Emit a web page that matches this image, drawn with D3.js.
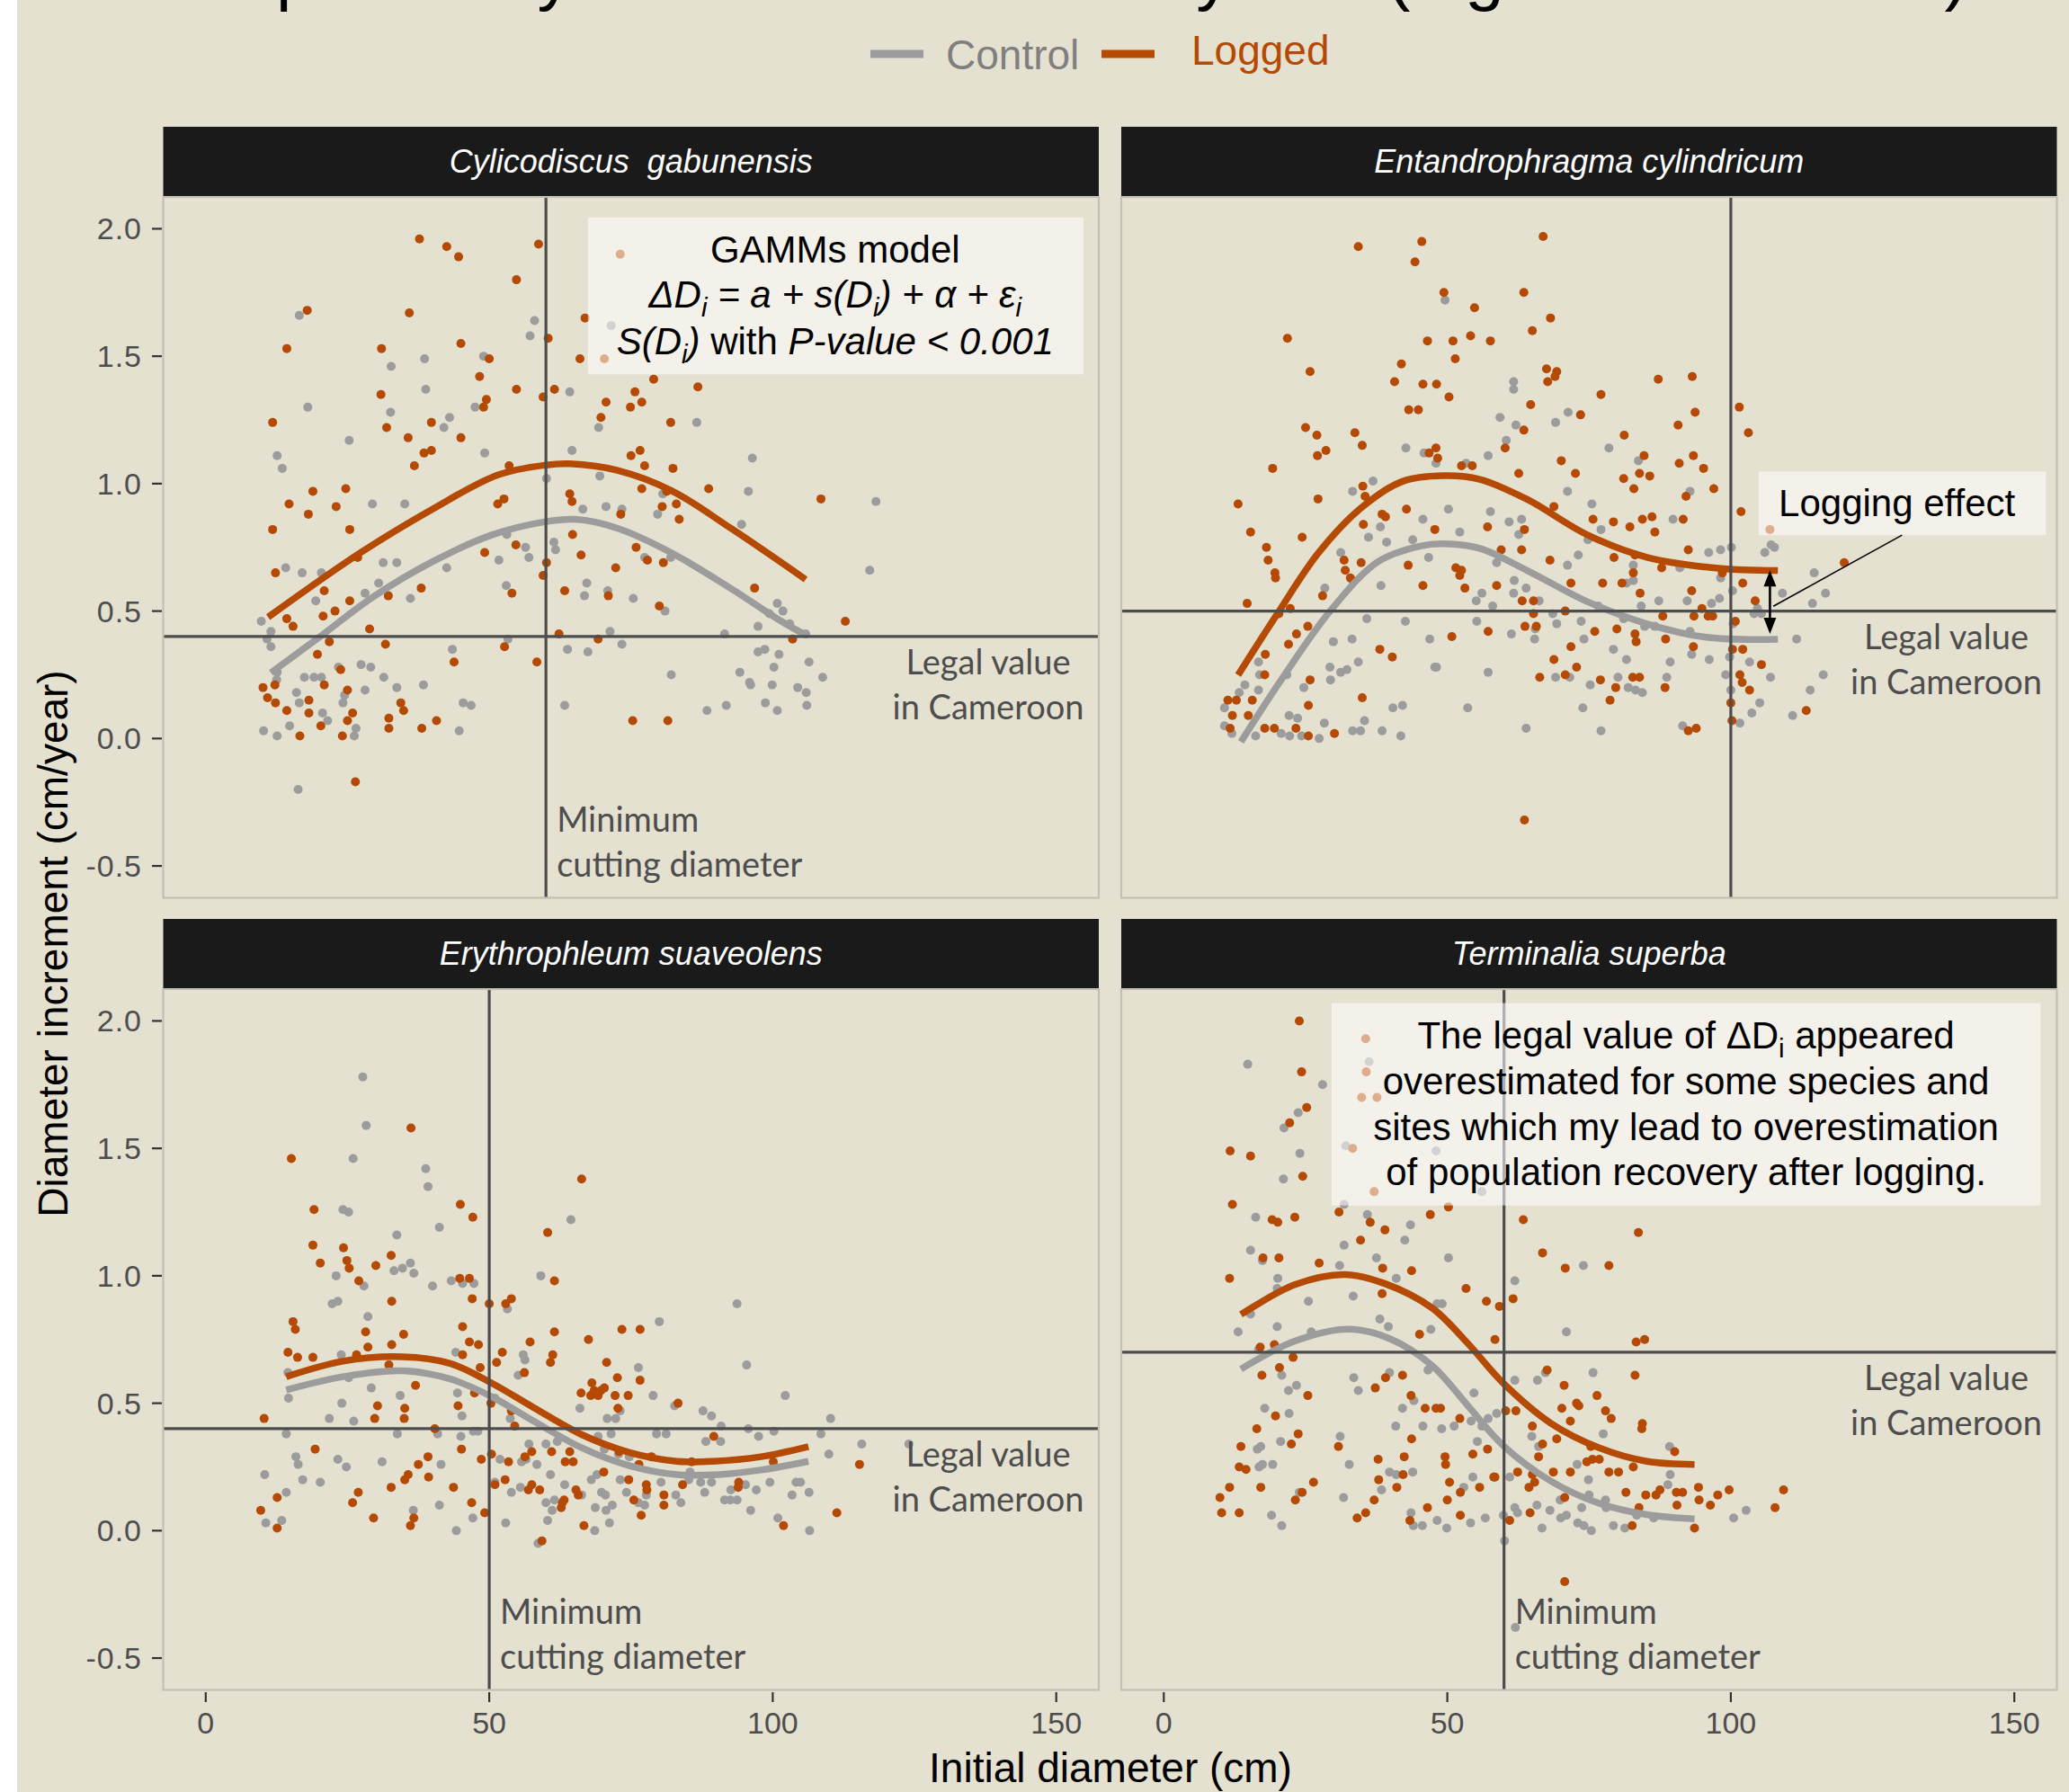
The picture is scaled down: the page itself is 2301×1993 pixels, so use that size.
<!DOCTYPE html>
<html><head><meta charset="utf-8">
<script src="https://cdn.jsdelivr.net/npm/d3@7"></script>
<style>body{margin:0;background:#fff}svg{display:block}</style>
</head><body>
<svg id="c" width="2301" height="1993"></svg>
<script>
// ---------- data (x = initial diameter cm, y = diameter increment cm/year) ----------
const speciesNames = ["Cylicodiscus  gabunensis","Entandrophragma cylindricum","Erythrophleum suaveolens","Terminalia superba"];
const minCuttingDiameter = [60, 100, 50, 60];
const legalValue = [0.4, 0.5, 0.4, 0.7];
const xTicks = [0, 50, 100, 150];
const yTicks = [-0.5, 0, 0.5, 1.0, 1.5, 2.0];
const yTickLabels = ["-0.5", "0.0", "0.5", "1.0", "1.5", "2.0"];
const seriesNames = ["Control", "Logged"];

const cylLogged = [[37.7,1.96],[42.5,1.93],[44.6,1.89],[58.7,1.94],[54.8,1.80],[17.9,1.68],[35.9,1.67],[14.3,1.53],[31.0,1.53],[45.0,1.55],[50.0,1.49],[48.3,1.42],[30.9,1.35],[54.8,1.37],[59.5,1.34],[61.5,1.37],[70.6,1.32],[74.9,1.30],[75.7,1.36],[76.9,1.32],[60.4,1.57],[66.0,1.49],[66.9,1.65],[79.0,1.41],[86.8,1.38],[11.8,1.24],[31.9,1.22],[35.7,1.18],[39.8,1.24],[45.0,1.18],[49.5,1.33],[49.0,1.30],[69.7,1.26],[82.0,1.24],[38.5,1.12],[39.8,1.13],[36.8,1.07],[53.5,1.07],[75.0,1.11],[76.6,1.13],[77.4,1.07],[82.4,1.06],[18.9,0.97],[24.7,0.98],[14.7,0.92],[18.1,0.88],[23.0,0.91],[25.4,0.82],[51.5,0.92],[52.6,0.94],[64.2,0.96],[64.6,0.93],[73.2,0.88],[76.9,0.98],[80.5,0.91],[83.0,0.92],[83.5,0.86],[88.7,0.98],[81.3,0.97],[11.8,0.82],[12.3,0.65],[26.8,0.71],[20.9,0.58],[20.7,0.48],[22.8,0.50],[25.4,0.54],[32.2,0.56],[38.0,0.59],[49.2,0.73],[54.7,0.76],[59.5,0.64],[60.1,0.69],[64.7,0.80],[66.2,0.72],[72.3,0.67],[75.9,0.75],[77.9,0.70],[80.7,0.69],[54.0,0.57],[63.3,0.58],[71.0,0.56],[80.0,0.52],[96.8,0.59],[108.5,0.94],[112.8,0.46],[14.3,0.47],[15.4,0.44],[28.9,0.43],[21.8,0.38],[31.7,0.37],[19.7,0.33],[23.8,0.27],[43.8,0.30],[52.7,0.36],[58.4,0.30],[62.3,0.41],[69.2,0.39],[103.5,0.39],[10.1,0.20],[12.2,0.21],[10.9,0.16],[12.3,0.14],[14.3,0.11],[18.2,0.10],[20.9,0.21],[25.0,0.19],[18.2,0.15],[25.9,0.10],[25.0,0.07],[20.3,0.05],[16.6,0.01],[24.1,0.01],[32.3,0.08],[32.3,0.04],[34.4,0.14],[34.9,0.11],[38.1,0.04],[40.7,0.07],[75.3,0.07],[81.5,0.07],[26.4,-0.17],[73.1,1.90],[70.3,1.49]];
const cylControl = [[16.5,1.66],[18.0,1.30],[32.7,1.46],[38.6,1.49],[38.8,1.37],[32.6,1.28],[25.3,1.17],[12.6,1.11],[13.5,1.06],[42.0,1.22],[43.0,1.26],[47.5,1.30],[49.2,1.12],[49.0,1.50],[58.0,1.64],[57.2,1.58],[64.2,1.36],[69.3,1.22],[86.6,1.24],[64.6,1.13],[96.4,1.10],[95.7,0.97],[60.1,1.02],[69.5,1.03],[29.4,0.92],[35.1,0.92],[70.6,0.91],[73.4,0.90],[66.5,0.90],[79.7,0.88],[80.6,0.96],[53.1,0.80],[56.4,0.75],[61.4,0.77],[61.7,0.74],[57.0,0.71],[51.7,0.70],[42.5,0.67],[31.3,0.69],[33.7,0.69],[14.1,0.67],[17.0,0.65],[20.4,0.65],[30.5,0.61],[28.1,0.57],[36.1,0.55],[19.4,0.54],[53.0,0.60],[67.2,0.61],[70.9,0.58],[66.8,0.56],[75.4,0.55],[81.0,0.50],[77.4,0.71],[82.0,0.71],[94.5,0.84],[118.2,0.93],[117.1,0.66],[100.8,0.53],[101.8,0.50],[99.4,0.49],[97.4,0.44],[103.0,0.45],[105.8,0.41],[9.8,0.46],[11.5,0.42],[10.8,0.39],[11.5,0.36],[12.6,0.26],[12.5,0.23],[17.4,0.24],[19.1,0.24],[20.4,0.24],[27.4,0.29],[29.1,0.28],[23.4,0.28],[31.4,0.24],[33.7,0.20],[38.4,0.21],[43.5,0.35],[53.3,0.39],[63.8,0.35],[67.4,0.34],[71.3,0.42],[73.4,0.37],[97.4,0.34],[98.6,0.35],[100.2,0.28],[101.1,0.33],[106.4,0.30],[108.8,0.24],[94.2,0.26],[95.9,0.22],[96.1,0.21],[99.9,0.21],[104.4,0.20],[105.9,0.18],[106.0,0.13],[98.7,0.14],[100.8,0.11],[91.8,0.13],[88.4,0.11],[82.1,0.25],[63.3,0.13],[45.4,0.14],[46.8,0.13],[28.1,0.19],[24.5,0.17],[24.2,0.14],[16.0,0.18],[16.5,0.14],[20.6,0.10],[21.5,0.07],[26.5,0.04],[26.2,0.01],[14.8,0.05],[12.6,0.01],[10.2,0.03],[44.7,0.03],[16.3,-0.20],[91.5,0.41],[71.5,1.62]];
const entLogged = [[34.3,1.93],[45.5,1.95],[44.3,1.87],[66.9,1.97],[49.4,1.75],[63.5,1.75],[54.8,1.69],[68.2,1.65],[65.0,1.60],[21.8,1.57],[46.5,1.56],[51.0,1.56],[54.1,1.58],[57.6,1.56],[25.8,1.44],[41.9,1.47],[51.4,1.49],[67.5,1.45],[69.3,1.44],[69.0,1.42],[67.7,1.40],[40.7,1.40],[45.7,1.39],[48.1,1.39],[50.3,1.34],[64.7,1.31],[77.1,1.35],[87.2,1.41],[93.2,1.42],[93.7,1.28],[90.7,1.23],[101.5,1.30],[103.1,1.20],[73.5,1.27],[43.2,1.29],[44.9,1.29],[25.0,1.22],[27.0,1.19],[33.7,1.20],[35.0,1.15],[28.6,1.13],[27.1,1.11],[19.2,1.06],[46.8,1.12],[48.0,1.14],[48.3,1.10],[52.5,1.07],[54.4,1.07],[60.2,1.14],[63.5,1.21],[70.1,1.09],[72.6,1.04],[62.6,1.04],[81.2,1.19],[84.7,1.11],[83.9,1.04],[85.7,1.03],[81.1,1.02],[82.9,0.98],[90.9,1.08],[93.4,1.11],[95.2,1.06],[97.0,0.98],[92.1,0.95],[101.8,0.89],[13.1,0.92],[27.2,0.94],[35.1,0.99],[35.5,0.95],[39.1,0.87],[38.5,0.88],[42.8,0.90],[35.2,0.84],[15.3,0.81],[24.4,0.79],[18.1,0.75],[18.4,0.70],[19.6,0.65],[19.7,0.63],[31.8,0.70],[34.8,0.69],[32.0,0.66],[32.9,0.63],[28.0,0.56],[43.1,0.68],[45.7,0.60],[47.8,0.82],[51.5,0.67],[52.5,0.66],[52.2,0.64],[53.1,0.59],[57.1,0.83],[59.5,0.74],[63.1,0.74],[63.6,0.82],[68.8,0.91],[68.1,0.70],[75.7,0.86],[79.3,0.85],[82.2,0.83],[84.4,0.86],[86.1,0.87],[91.6,0.86],[86.6,0.81],[79.4,0.71],[83.1,0.72],[87.8,0.67],[92.5,0.74],[98.5,0.65],[102.1,0.61],[120.0,0.69],[58.7,0.60],[63.2,0.54],[65.2,0.54],[71.8,0.61],[77.4,0.61],[80.8,0.61],[82.8,0.65],[84.0,0.57],[93.1,0.58],[14.7,0.53],[22.3,0.51],[20.3,0.49],[25.4,0.44],[23.4,0.41],[22.0,0.37],[17.9,0.33],[17.8,0.25],[25.8,0.23],[25.5,0.13],[35.0,0.16],[38.1,0.35],[40.3,0.32],[50.8,0.40],[57.2,0.42],[65.2,0.49],[63.7,0.44],[65.7,0.44],[70.8,0.50],[76.0,0.42],[79.9,0.43],[83.1,0.41],[83.3,0.38],[88.0,0.48],[88.5,0.39],[93.5,0.48],[94.9,0.51],[96.0,0.48],[96.8,0.48],[100.8,0.46],[104.3,0.54],[93.4,0.36],[100.3,0.35],[102.1,0.35],[105.4,0.29],[71.8,0.36],[68.8,0.31],[72.8,0.28],[70.8,0.25],[66.3,0.24],[77.0,0.23],[79.7,0.20],[82.7,0.24],[83.9,0.24],[88.4,0.20],[78.7,0.15],[101.6,0.25],[102.0,0.22],[103.3,0.19],[100.0,0.14],[100.2,0.07],[113.3,0.11],[92.5,0.03],[93.9,0.04],[11.3,0.15],[12.8,0.15],[15.6,0.15],[12.1,0.09],[14.9,0.09],[11.7,0.04],[17.8,0.04],[19.5,0.04],[23.3,0.04],[25.5,0.01],[30.1,0.02],[63.6,-0.32],[106.9,0.82]];
const entControl = [[49.6,1.72],[61.7,1.40],[61.7,1.37],[59.3,1.26],[62.1,1.23],[71.3,1.28],[69.1,1.24],[60.4,1.17],[57.2,1.11],[53.3,1.08],[48.0,1.08],[45.9,1.12],[42.7,1.14],[78.5,1.14],[83.7,1.09],[33.3,0.97],[36.9,1.01],[71.2,0.97],[75.5,0.92],[92.8,0.97],[89.8,0.86],[57.6,0.89],[50.2,0.90],[45.7,0.86],[60.9,0.85],[63.1,0.86],[38.2,0.83],[39.3,0.77],[36.1,0.79],[43.9,0.78],[52.2,0.81],[62.6,0.80],[58.7,0.69],[46.7,0.71],[31.2,0.73],[28.4,0.59],[38.3,0.60],[33.3,0.62],[71.2,0.68],[73.1,0.72],[74.8,0.78],[77.1,0.82],[82.8,0.68],[82.8,0.62],[81.6,0.61],[91.0,0.67],[96.1,0.73],[98.2,0.74],[100.1,0.75],[98.2,0.63],[100.3,0.58],[106.0,0.73],[107.7,0.75],[114.7,0.65],[109.1,0.57],[116.7,0.57],[114.4,0.53],[61.8,0.62],[63.9,0.59],[66.2,0.54],[55.1,0.54],[56.1,0.57],[58.0,0.52],[61.7,0.57],[68.6,0.49],[69.3,0.45],[73.6,0.46],[76.6,0.52],[81.1,0.47],[84.2,0.52],[87.3,0.54],[92.3,0.54],[96.6,0.53],[98.0,0.55],[104.7,0.51],[104.1,0.49],[105.4,0.49],[35.8,0.47],[42.6,0.46],[55.2,0.46],[61.3,0.41],[65.5,0.43],[65.4,0.39],[74.1,0.39],[84.8,0.44],[86.6,0.44],[92.8,0.42],[100.4,0.45],[111.6,0.39],[29.9,0.38],[33.2,0.39],[46.9,0.39],[79.3,0.35],[81.6,0.31],[89.3,0.30],[93.1,0.33],[96.2,0.31],[99.8,0.32],[103.3,0.30],[107.0,0.24],[99.1,0.25],[116.3,0.25],[114.0,0.19],[110.9,0.09],[105.1,0.14],[103.7,0.10],[101.6,0.06],[91.5,0.05],[77.1,0.03],[63.9,0.04],[53.6,0.12],[73.9,0.12],[69.1,0.24],[71.6,0.24],[75.2,0.21],[80.1,0.24],[81.9,0.20],[83.2,0.19],[84.4,0.18],[88.7,0.24],[57.2,0.26],[48.1,0.28],[47.8,0.28],[34.3,0.30],[32.3,0.27],[31.2,0.26],[29.3,0.28],[29.4,0.23],[24.7,0.20],[21.7,0.25],[16.7,0.30],[16.9,0.25],[16.7,0.19],[14.3,0.21],[13.3,0.18],[10.7,0.12],[10.7,0.05],[12.0,0.02],[16.2,0.01],[20.7,0.02],[22.2,0.01],[24.3,0.01],[27.4,0.00],[22.1,0.09],[23.6,0.08],[28.3,0.06],[33.3,0.03],[34.7,0.03],[35.4,0.07],[38.5,0.03],[41.8,0.01],[40.4,0.12],[42.1,0.13],[100.0,0.19],[107.1,0.76]];
const eryLogged = [[15.1,1.46],[36.2,1.58],[19.1,1.26],[18.9,1.12],[20.2,1.05],[24.3,1.11],[24.9,1.06],[25.3,1.03],[27.0,0.98],[30.0,1.04],[32.7,1.08],[32.8,0.90],[44.9,1.28],[47.1,1.23],[44.8,0.99],[46.5,0.99],[47.0,0.91],[50.0,0.89],[52.9,0.89],[53.9,0.91],[60.3,1.17],[61.5,0.98],[66.3,1.38],[15.4,0.82],[15.8,0.79],[28.2,0.78],[28.6,0.72],[32.8,0.73],[34.9,0.77],[14.5,0.70],[16.2,0.68],[18.9,0.68],[26.6,0.69],[32.3,0.65],[45.3,0.80],[46.5,0.74],[48.1,0.73],[45.3,0.69],[48.4,0.64],[51.3,0.66],[52.3,0.70],[57.2,0.74],[61.5,0.78],[61.2,0.69],[60.8,0.66],[67.5,0.75],[73.4,0.79],[76.6,0.79],[70.7,0.66],[56.2,0.62],[72.6,0.60],[76.6,0.59],[68.1,0.58],[66.2,0.54],[67.9,0.53],[68.5,0.55],[69.7,0.55],[70.3,0.56],[69.2,0.53],[72.2,0.53],[74.5,0.53],[72.7,0.48],[83.3,0.50],[37.0,0.57],[30.3,0.49],[35.1,0.48],[35.0,0.44],[29.8,0.44],[44.5,0.49],[47.4,0.54],[50.3,0.50],[53.9,0.47],[54.5,0.41],[10.3,0.44],[40.4,0.40],[19.3,0.32],[45.1,0.32],[39.2,0.29],[50.4,0.30],[48.6,0.28],[53.4,0.27],[57.5,0.31],[61.0,0.31],[64.2,0.31],[63.4,0.27],[64.8,0.27],[56.3,0.29],[37.5,0.26],[35.7,0.22],[35.1,0.20],[39.3,0.21],[32.7,0.17],[43.7,0.17],[52.8,0.20],[51.0,0.18],[56.9,0.16],[57.5,0.18],[58.9,0.16],[65.3,0.16],[65.7,0.14],[62.9,0.11],[63.2,0.12],[62.7,0.09],[70.2,0.23],[74.6,0.20],[77.7,0.18],[77.8,0.16],[75.5,0.12],[76.8,0.06],[80.8,0.10],[80.8,0.14],[72.9,0.31],[76.4,0.26],[78.6,0.29],[85.7,0.27],[84.1,0.18],[89.6,0.37],[94.0,0.19],[93.9,0.17],[100.1,0.27],[115.3,0.26],[101.9,0.02],[111.3,0.07],[66.7,0.02],[59.3,-0.04],[46.9,0.11],[49.2,0.07],[36.7,0.05],[36.1,0.02],[29.6,0.05],[26.9,0.15],[25.9,0.11],[12.6,0.13],[9.7,0.08],[12.6,0.01]];
const eryControl = [[27.7,1.78],[28.3,1.59],[26.0,1.46],[38.8,1.42],[39.2,1.35],[24.2,1.26],[25.2,1.25],[41.2,1.19],[33.7,1.16],[23.0,1.00],[22.3,0.89],[23.3,0.90],[27.9,0.96],[28.6,0.84],[33.2,1.02],[34.7,1.03],[36.1,1.05],[36.7,1.01],[40.0,0.96],[43.3,0.98],[45.3,0.97],[47.3,0.97],[59.1,1.00],[64.4,1.22],[53.2,0.87],[80.0,0.82],[93.7,0.89],[95.4,0.65],[23.9,0.69],[25.2,0.60],[14.5,0.62],[14.6,0.52],[29.2,0.56],[34.3,0.53],[24.0,0.50],[21.8,0.44],[26.1,0.43],[44.1,0.70],[44.4,0.54],[45.2,0.45],[56.0,0.69],[56.3,0.67],[55.1,0.61],[53.7,0.44],[51.0,0.52],[76.3,0.64],[78.9,0.53],[82.7,0.49],[70.8,0.44],[72.3,0.44],[73.1,0.47],[66.0,0.48],[87.7,0.47],[89.2,0.45],[90.9,0.41],[102.2,0.53],[110.2,0.44],[108.5,0.38],[109.9,0.30],[115.7,0.34],[124.0,0.34],[95.7,0.40],[97.5,0.37],[100.2,0.39],[90.8,0.35],[88.2,0.35],[79.5,0.38],[81.2,0.38],[71.5,0.38],[69.2,0.37],[70.3,0.32],[72.8,0.30],[74.7,0.29],[62.0,0.35],[60.0,0.34],[57.0,0.34],[58.4,0.26],[60.8,0.22],[56.5,0.28],[55.7,0.27],[51.9,0.28],[48.0,0.39],[47.2,0.39],[45.0,0.37],[40.9,0.38],[33.8,0.38],[14.2,0.38],[15.9,0.29],[16.3,0.26],[23.3,0.28],[24.8,0.25],[31.1,0.27],[41.5,0.26],[17.1,0.20],[20.2,0.19],[10.4,0.22],[14.2,0.15],[10.6,0.03],[13.4,0.04],[36.6,0.08],[41.2,0.10],[44.2,0.00],[47.1,0.05],[52.9,0.03],[51.0,0.19],[53.9,0.15],[55.5,0.17],[60.0,0.11],[61.5,0.12],[61.1,0.08],[60.3,0.04],[58.6,-0.05],[63.3,0.18],[66.3,0.14],[68.0,0.20],[69.0,0.22],[69.8,0.15],[70.5,0.14],[70.6,0.08],[68.7,0.09],[68.6,0.00],[71.2,0.03],[71.7,0.10],[73.1,0.20],[74.2,0.15],[76.3,0.11],[77.4,0.10],[77.7,0.14],[80.3,0.19],[82.9,0.14],[83.8,0.11],[85.2,0.20],[85.4,0.23],[87.3,0.19],[88.0,0.15],[89.2,0.19],[91.5,0.12],[92.5,0.12],[93.7,0.12],[92.6,0.16],[95.2,0.18],[97.1,0.16],[99.5,0.19],[104.1,0.19],[104.9,0.19],[106.4,0.15],[103.4,0.14],[96.1,0.08],[100.9,0.05],[106.5,0.00]];
const terLogged = [[23.9,2.00],[24.3,1.80],[25.2,1.66],[22.2,1.60],[24.5,1.39],[11.7,1.49],[15.3,1.47],[12.1,1.28],[19.1,1.22],[20.1,1.21],[23.1,1.23],[30.9,1.25],[35.6,1.93],[35.7,1.80],[34.9,1.70],[37.6,1.70],[33.3,1.50],[37.1,1.33],[36.4,1.21],[39.0,1.18],[34.7,1.14],[47.0,1.24],[50.2,1.27],[63.4,1.22],[83.7,1.17],[17.5,1.07],[20.3,1.07],[27.4,1.05],[38.6,1.03],[43.7,1.02],[11.6,0.99],[38.5,0.93],[66.8,1.09],[70.8,1.03],[78.5,1.04],[53.3,0.95],[56.9,0.90],[59.2,0.88],[61.6,0.91],[45.1,0.77],[58.4,0.75],[83.3,0.74],[84.8,0.75],[17.0,0.72],[19.5,0.73],[22.8,0.68],[20.4,0.64],[17.3,0.61],[25.4,0.53],[39.1,0.60],[42.1,0.61],[37.3,0.56],[43.6,0.53],[46.1,0.48],[48.0,0.48],[48.8,0.48],[52.2,0.44],[60.3,0.47],[62.1,0.47],[67.6,0.63],[70.6,0.57],[70.2,0.48],[71.7,0.43],[76.4,0.53],[72.8,0.50],[73.2,0.49],[77.9,0.47],[78.9,0.44],[83.1,0.61],[84.4,0.42],[84.3,0.40],[65.0,0.41],[66.8,0.34],[69.3,0.36],[75.3,0.33],[75.6,0.28],[82.8,0.25],[90.1,0.31],[16.4,0.40],[19.7,0.45],[23.7,0.38],[22.5,0.34],[13.6,0.33],[13.3,0.25],[14.5,0.24],[17.1,0.17],[11.6,0.17],[9.9,0.13],[10.2,0.07],[13.3,0.07],[23.2,0.12],[24.4,0.15],[26.4,0.19],[30.8,0.33],[43.7,0.36],[42.4,0.29],[37.8,0.28],[37.9,0.20],[42.2,0.22],[41.1,0.17],[37.1,0.12],[35.6,0.07],[34.1,0.05],[49.6,0.29],[49.7,0.26],[54.5,0.30],[57.1,0.32],[52.3,0.15],[50.4,0.19],[50.0,0.12],[55.7,0.17],[58.2,0.21],[58.4,0.21],[62.4,0.23],[65.0,0.22],[64.4,0.17],[65.4,0.19],[66.1,0.29],[68.7,0.23],[71.7,0.23],[70.7,0.13],[74.6,0.27],[76.8,0.28],[78.5,0.23],[80.2,0.23],[81.5,0.15],[85.0,0.14],[83.8,0.09],[86.8,0.14],[87.5,0.16],[90.4,0.15],[91.5,0.15],[90.5,0.10],[94.3,0.17],[94.4,0.12],[96.4,0.10],[97.7,0.14],[99.7,0.16],[109.3,0.16],[107.8,0.09],[93.6,0.01],[82.6,0.02],[64.6,0.07],[61.0,0.04],[52.3,0.06],[46.5,0.09],[43.4,0.04],[70.7,-0.20]];
const terControl = [[14.8,1.83],[28.0,1.75],[23.7,1.64],[21.2,1.58],[24.0,1.48],[21.1,1.38],[36.2,1.84],[32.1,1.51],[48.0,1.49],[56.1,1.33],[31.8,1.28],[35.9,1.24],[43.5,1.20],[42.5,1.14],[31.8,1.12],[37.5,1.07],[50.2,1.07],[16.2,1.23],[15.3,1.10],[17.4,1.06],[20.1,0.99],[20.0,0.95],[31.0,1.04],[41.0,0.99],[33.4,0.92],[25.5,0.90],[48.2,0.89],[49.1,0.89],[61.9,0.98],[74.0,1.04],[38.1,0.83],[39.6,0.80],[47.1,0.79],[71.0,0.78],[13.1,0.78],[20.0,0.80],[15.3,0.85],[26.0,0.78],[16.7,0.71],[20.8,0.61],[23.4,0.57],[22.0,0.55],[33.5,0.60],[34.3,0.55],[39.8,0.62],[44.1,0.51],[46.6,0.63],[54.7,0.54],[61.9,0.59],[65.9,0.59],[67.3,0.62],[75.7,0.62],[57.2,0.44],[58.7,0.46],[42.1,0.48],[40.9,0.41],[45.7,0.41],[49.0,0.40],[51.2,0.41],[54.2,0.43],[56.1,0.41],[55.3,0.35],[64.9,0.37],[77.5,0.38],[72.9,0.26],[66.1,0.33],[74.9,0.20],[17.8,0.48],[22.1,0.46],[17.1,0.33],[16.5,0.32],[17.4,0.26],[16.8,0.25],[19.2,0.26],[20.6,0.35],[31.1,0.37],[32.7,0.26],[39.8,0.23],[41.0,0.22],[43.9,0.23],[38.4,0.16],[31.7,0.13],[23.9,0.15],[19.0,0.06],[20.8,0.02],[43.6,0.07],[44.0,0.02],[45.6,0.02],[48.2,0.04],[49.9,0.01],[54.1,0.03],[52.9,0.17],[54.5,0.21],[56.7,0.05],[59.9,0.06],[60.1,-0.04],[61.9,0.09],[62.4,0.07],[61.0,0.21],[65.8,0.10],[66.7,0.01],[68.1,0.08],[70.0,0.05],[71.0,0.06],[69.9,0.12],[73.0,0.03],[74.1,0.02],[75.4,0.00],[73.7,0.09],[75.0,0.14],[77.9,0.12],[79.3,0.02],[81.3,0.01],[78.0,0.09],[83.4,0.06],[86.4,0.05],[89.2,0.33],[88.9,0.18],[89.3,0.22],[100.5,0.05],[102.7,0.08],[62.0,-0.38]];

// GAMM fitted curves
const cylFitLogged = [[11,0.476],[27.3,0.729],[40,0.90],[51.5,1.034],[60,1.073],[64.2,1.078],[72.6,1.052],[82.1,0.973],[92.6,0.825],[105.8,0.624]];
const cylFitControl = [[11.5,0.258],[20,0.397],[29.4,0.554],[40,0.694],[50.5,0.799],[60,0.851],[65.2,0.86],[72.6,0.825],[82.1,0.729],[92.6,0.589],[101,0.467],[105.8,0.406]];
const entFitLogged = [[13.1,0.249],[19.9,0.485],[27.3,0.729],[34.7,0.903],[42,1.008],[49.4,1.031],[55.7,1.017],[64.1,0.938],[74.7,0.799],[85.2,0.711],[97.8,0.668],[108.3,0.659]];
const entFitControl = [[13.6,-0.013],[21,0.24],[29.4,0.502],[37.8,0.694],[45.2,0.755],[49.4,0.764],[55.7,0.746],[64.1,0.659],[74.7,0.537],[85.2,0.450],[95.7,0.397],[108.3,0.389]];
const eryFitLogged = [[14.2,0.604],[24.2,0.665],[34.7,0.682],[43.1,0.656],[50.5,0.578],[57.9,0.482],[66.3,0.377],[74.7,0.307],[83.1,0.272],[89.4,0.272],[97.9,0.29],[106.3,0.33]];
const eryFitControl = [[14.2,0.552],[24.2,0.604],[34.7,0.627],[43.1,0.595],[50.5,0.525],[57.9,0.429],[66.3,0.325],[74.7,0.255],[83.1,0.22],[90.5,0.22],[97.9,0.238],[106.3,0.272]];
const terFitLogged = [[13.6,0.848],[23.1,0.965],[32,1.005],[38.9,0.97],[47.3,0.874],[53.6,0.735],[59.9,0.578],[68.3,0.421],[76.8,0.325],[85.2,0.272],[93.6,0.26]];
const terFitControl = [[13.6,0.634],[23.1,0.744],[32.6,0.791],[40,0.752],[47.3,0.648],[53.6,0.491],[59.9,0.333],[68.3,0.194],[76.8,0.107],[85.2,0.063],[93.6,0.046]];

// logging effect arrow (x, from, to) in data units
const loggingEffect = {x: 106.9, from: 0.66, to: 0.41};

// ---------- drawing ----------
const BG = "#E5E1D1", ORANGE = "#B54A04", GRAY = "#9C9C9C", DARK = "#4D4D4D";
const SANS = "'Liberation Sans', Arial, Helvetica, sans-serif";
const HUM = "Lato, 'Open Sans', sans-serif";
const svg = d3.select("#c");
svg.append("rect").attr("x",19).attr("y",0).attr("width",2282).attr("height",1993).attr("fill",BG);

// title (mostly above the top edge in the original)
svg.append("text").attr("x",255).attr("y",-3).style("font-family",SANS).style("font-size","78px")
  .attr("fill","#000").text("Species dynamics in the first 5 years (log-linear models)");

// legend
const lg = svg.append("g");
lg.append("line").attr("x1",968).attr("x2",1027).attr("y1",60).attr("y2",60).attr("stroke",GRAY).attr("stroke-width",9);
lg.append("text").attr("x",1052).attr("y",77).style("font-family",SANS).style("font-size","46px").attr("fill","#7F7F7F").text(seriesNames[0]);
lg.append("line").attr("x1",1225).attr("x2",1284).attr("y1",60).attr("y2",60).attr("stroke",ORANGE).attr("stroke-width",9);
lg.append("text").attr("x",1325).attr("y",72).style("font-family",SANS).style("font-size","46px").attr("fill",ORANGE).text(seriesNames[1]);

const colLeft = [181.5, 1247], rowTop = [219, 1100];
const W = 1040.5, H = 779.5;
const x = d3.scaleLinear().domain([-7.5, 157.5]).range([0, W]);
const y = d3.scaleLinear().domain([-0.625, 2.125]).range([H, 0]);

const panels = [
  {i:0, col:0, row:0, L:cylLogged, C:cylControl, fL:cylFitLogged, fC:cylFitControl, showMin:true},
  {i:1, col:1, row:0, L:entLogged, C:entControl, fL:entFitLogged, fC:entFitControl, showMin:false},
  {i:2, col:0, row:1, L:eryLogged, C:eryControl, fL:eryFitLogged, fC:eryFitControl, showMin:true},
  {i:3, col:1, row:1, L:terLogged, C:terControl, fL:terFitLogged, fC:terFitControl, showMin:true}
];

const line = d3.line().x(d=>x(d[0])).y(d=>y(d[1])).curve(d3.curveCatmullRom.alpha(0.5));

function richText(g, px, py, segs, size, anchor) {
  const t = g.append("text").attr("x",px).attr("y",py).attr("text-anchor",anchor||"middle")
    .style("font-family",SANS).style("font-size",size+"px").attr("fill","#000").style("white-space","pre");
  let shift = 0;
  segs.forEach(s => {
    const ts = t.append("tspan").text(s.t);
    if (s.i) ts.style("font-style","italic");
    if (s.sub) { ts.attr("dy", size*0.25).style("font-size",(size*0.7)+"px"); shift = size*0.25; }
    else if (shift) { ts.attr("dy", -shift); shift = 0; }
  });
  return t;
}

panels.forEach(p => {
  const g = svg.append("g").attr("transform",`translate(${colLeft[p.col]},${rowTop[p.row]})`);
  // strip
  svg.append("rect").attr("x",colLeft[p.col]).attr("y",rowTop[p.row]-78).attr("width",W).attr("height",77).attr("fill","#1A1A1A");
  svg.append("text").attr("x",colLeft[p.col]+W/2).attr("y",rowTop[p.row]-27).attr("text-anchor","middle")
    .style("font-family",SANS).style("font-size","36px").style("font-style","italic").style("white-space","pre")
    .attr("fill","#fff").text(speciesNames[p.i]);
  // points
  g.selectAll("circle.c").data(p.C).enter().append("circle").attr("cx",d=>x(d[0])).attr("cy",d=>y(d[1])).attr("r",5).attr("fill",GRAY);
  g.selectAll("circle.l").data(p.L).enter().append("circle").attr("cx",d=>x(d[0])).attr("cy",d=>y(d[1])).attr("r",5).attr("fill",ORANGE);
  // fits
  g.append("path").attr("d",line(p.fC)).attr("fill","none").attr("stroke",GRAY).attr("stroke-width",7.5).attr("stroke-linecap","butt");
  g.append("path").attr("d",line(p.fL)).attr("fill","none").attr("stroke",ORANGE).attr("stroke-width",7.5).attr("stroke-linecap","butt");
  // reference lines
  g.append("line").attr("x1",x(minCuttingDiameter[p.i])).attr("x2",x(minCuttingDiameter[p.i])).attr("y1",0).attr("y2",H).attr("stroke",DARK).attr("stroke-width",3.2);
  g.append("line").attr("x1",0).attr("x2",W).attr("y1",y(legalValue[p.i])).attr("y2",y(legalValue[p.i])).attr("stroke",DARK).attr("stroke-width",3.2);
  // legal value text
  const ly = y(legalValue[p.i]) + 42;
  [["Legal value",0],["in Cameroon",50]].forEach(([t,dy]) => {
    g.append("text").attr("x",x(138)).attr("y",ly+dy).attr("text-anchor","middle").style("font-family",HUM).style("font-size","38px").attr("fill",DARK).text(t);
  });
  if (p.showMin) {
    [["Minimum",0],["cutting diameter",50]].forEach(([t,dy]) => {
      g.append("text").attr("x",x(minCuttingDiameter[p.i]+1.9)).attr("y",y(-0.365)+dy).style("font-family",HUM).style("font-size","38px").attr("fill",DARK).text(t);
    });
  }
  // annotation boxes
  if (p.i === 0) {
    g.append("rect").attr("x",x(67.4)).attr("y",y(2.044)).attr("width",x(154.8)-x(67.4)).attr("height",y(1.429)-y(2.044)).attr("fill","#fff").attr("fill-opacity",0.55);
    const cx = x(111);
    richText(g, cx, y(2.044)+50, [{t:"GAMMs model"}], 42);
    richText(g, cx, y(2.044)+100, [{t:"ΔD",i:1},{t:"i",i:1,sub:1},{t:" = a + s(D",i:1},{t:"i",i:1,sub:1},{t:") + α + ε",i:1},{t:"i",i:1,sub:1}], 42);
    richText(g, cx, y(2.044)+152, [{t:"S(D",i:1},{t:"i",i:1,sub:1},{t:")",i:1},{t:" with "},{t:"P-value < 0.001",i:1}], 42);
  }
  if (p.i === 1) {
    g.append("rect").attr("x",x(104.9)).attr("y",y(1.047)).attr("width",x(155.6)-x(104.9)).attr("height",y(0.798)-y(1.047)).attr("fill","#fff").attr("fill-opacity",0.55);
    richText(g, x(129.3), y(1.047)+49, [{t:"Logging effect"}], 42);
    g.append("line").attr("x1",x(107.5)).attr("y1",y(0.519)).attr("x2",x(130.2)).attr("y2",y(0.798)).attr("stroke","#000").attr("stroke-width",1.6);
    const ax = x(loggingEffect.x), y1 = y(loggingEffect.from), y2 = y(loggingEffect.to);
    g.append("line").attr("x1",ax).attr("x2",ax).attr("y1",y1+14).attr("y2",y2-14).attr("stroke","#000").attr("stroke-width",2.6);
    g.append("path").attr("d",`M${ax},${y1} l-7,18 l14,0 Z`).attr("fill","#000");
    g.append("path").attr("d",`M${ax},${y2} l-7,-18 l14,0 Z`).attr("fill","#000");
  }
  if (p.i === 3) {
    g.append("rect").attr("x",x(29.6)).attr("y",y(2.07)).attr("width",x(154.6)-x(29.6)).attr("height",y(1.276)-y(2.07)).attr("fill","#fff").attr("fill-opacity",0.55);
    const cx = x(92.1), top = y(2.07);
    richText(g, cx, top+50, [{t:"The legal value of ΔD"},{t:"i",sub:1},{t:" appeared"}], 42);
    richText(g, cx, top+101, [{t:"overestimated for some species and"}], 42);
    richText(g, cx, top+152, [{t:"sites which my lead to overestimation"}], 42);
    richText(g, cx, top+202, [{t:"of population recovery after logging."}], 42);
  }
  // panel border
  g.append("rect").attr("x",0).attr("y",0).attr("width",W).attr("height",H).attr("fill","none").attr("stroke","#C2C0B6").attr("stroke-width",2.2);

  // axes
  if (p.col === 0) {
    yTicks.forEach((v,k) => {
      svg.append("line").attr("x1",169).attr("x2",180).attr("y1",rowTop[p.row]+y(v)).attr("y2",rowTop[p.row]+y(v)).attr("stroke","#333").attr("stroke-width",2.2);
      svg.append("text").attr("x",158).attr("y",rowTop[p.row]+y(v)+12).attr("text-anchor","end").style("font-family",SANS).style("font-size","34px").style("letter-spacing","1px").attr("fill",DARK).text(yTickLabels[k]);
    });
  }
  if (p.row === 1) {
    xTicks.forEach(v => {
      const xx = colLeft[p.col] + x(v);
      svg.append("line").attr("x1",xx).attr("x2",xx).attr("y1",1882).attr("y2",1893).attr("stroke","#333").attr("stroke-width",2.2);
      svg.append("text").attr("x",xx).attr("y",1928).attr("text-anchor","middle").style("font-family",SANS).style("font-size","34px").attr("fill",DARK).text(v);
    });
  }
});

// axis titles
svg.append("text").attr("x",1235).attr("y",1982).attr("text-anchor","middle").style("font-family",SANS).style("font-size","46px").attr("fill","#000").text("Initial diameter (cm)");
svg.append("text").attr("transform","translate(75,1049.5) rotate(-90)").attr("text-anchor","middle").style("font-family",SANS).style("font-size","46px").attr("fill","#000").text("Diameter increment (cm/year)");
</script>
</body></html>
